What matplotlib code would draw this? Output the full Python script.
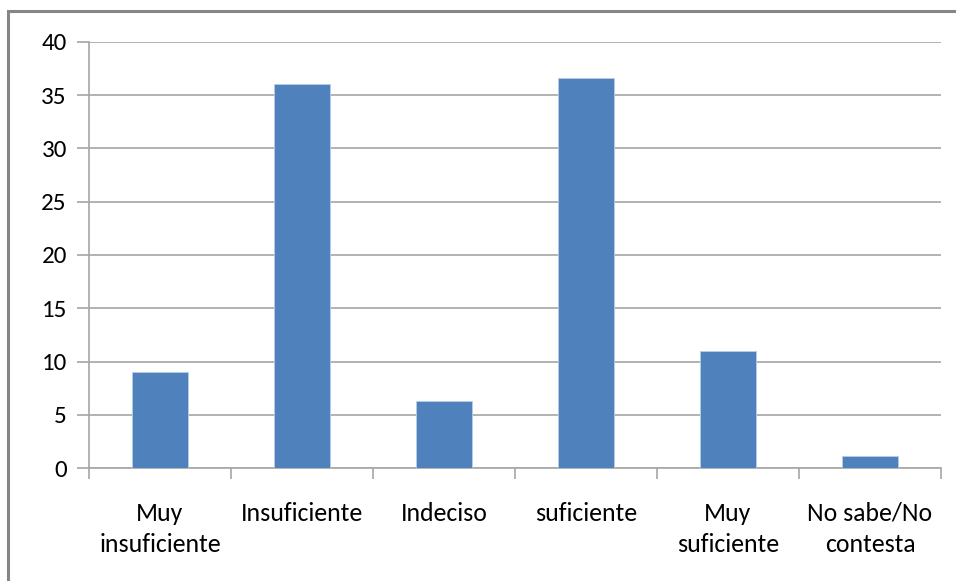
import matplotlib
matplotlib.use("Agg")
import matplotlib.pyplot as plt
from matplotlib.patches import Rectangle

categories = ["Muy\ninsuficiente", "Insuficiente", "Indeciso", "suficiente", "Muy\nsuficiente", "No sabe/No\ncontesta"]
values = [9.0, 36.0, 6.3, 36.6, 11.0, 1.2]
yticks = [0, 5, 10, 15, 20, 25, 30, 35, 40]

plt.rcParams['font.family'] = ['Carlito', 'Liberation Sans Narrow', 'Lato', 'DejaVu Sans']

W, H = 956, 581
fig = plt.figure(figsize=(W / 100, H / 100), dpi=100)
ax = fig.add_axes([89 / W, 1 - 468.3 / H, (941 - 89) / W, (468.3 - 41.7) / H])

grid_c = "#A6A6A6"
x = list(range(len(categories)))
ax.bar(x, values, width=0.39, color="#4F81BD", edgecolor="#B9CDE5", linewidth=0.6, zorder=3)
ax.set_xlim(-0.5, len(categories) - 0.5)
ax.set_ylim(0, 40)
ax.set_yticks(yticks)
ax.set_yticklabels([str(v) for v in yticks], fontsize=18, color="#000000")
ax.yaxis.grid(True, color=grid_c, linewidth=1.2, zorder=0)
ax.set_axisbelow(True)
ax.tick_params(axis='y', length=9, width=1.2, color=grid_c, pad=7)

# category boundary ticks on x axis
ax.set_xticks([i + 0.5 for i in range(-1, len(categories))])
ax.set_xticklabels([])
ax.tick_params(axis='x', length=8, width=1.2, color=grid_c)
ax.set_xticks(x, minor=True)
ax.set_xticklabels(categories, minor=True, fontsize=18.5, linespacing=1.45)
ax.tick_params(axis='x', which='minor', length=0, pad=24)

for s in ["top", "right"]:
    ax.spines[s].set_visible(False)
for s in ["left", "bottom"]:
    ax.spines[s].set_color(grid_c)
    ax.spines[s].set_linewidth(1.2)

# outer chart border
fig.patches.append(Rectangle((8 / W, -0.1), 1.2, 1 - 11 / H + 0.1, transform=fig.transFigure,
                             fill=False, edgecolor="#868686", linewidth=2.2))

fig.savefig("out.png", dpi=100)
